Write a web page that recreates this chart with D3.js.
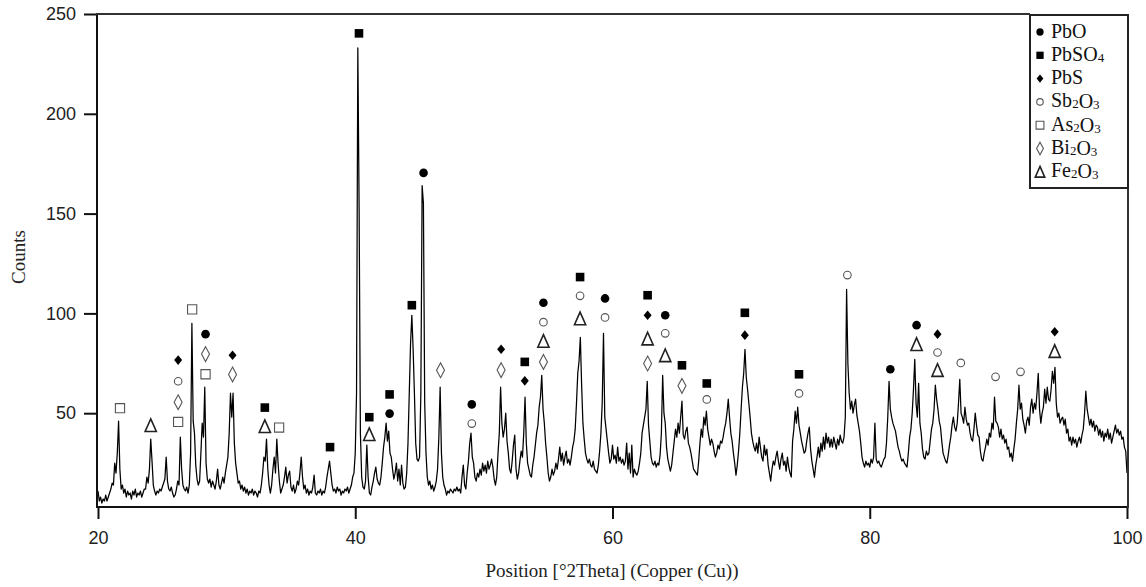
<!DOCTYPE html>
<html>
<head>
<meta charset="utf-8">
<script src="https://cdn.jsdelivr.net/npm/d3@7"></script>
<style>
  body { margin: 0; background: #fff; }
  svg { display: block; }
  .tick text { font-family: "Liberation Sans", Arial, sans-serif; font-size: 18px; fill: #222; }
  .axis-title { font-family: "Liberation Serif", "Times New Roman", serif; font-size: 19px; fill: #222; }
  .legend text { font-family: "Liberation Serif", "Times New Roman", serif; font-size: 20px; fill: #111; }
</style>
</head>
<body>
<svg width="1146" height="587"></svg>
<script>
// scan settings (degrees 2theta)
var scanStart = 20;
var scanStep = 0.1;

// counts, one row per degree (20.0 ... 20.9, 21.0 ...)
var counts = [
  11, 6, 8, 5, 7, 6, 9, 6, 8, 10,
  12, 15, 14, 25, 20, 30, 46, 22, 12, 14,
  10, 12, 8, 11, 9, 10, 7, 11, 9, 12,
  8, 10, 9, 11, 8, 10, 12, 12, 18, 15,
  22, 37, 26, 14, 11, 9, 11, 10, 12, 11,
  13, 15, 17, 28, 16, 12, 11, 13, 10, 8,
  9, 12, 16, 14, 38, 22, 14, 12, 11, 13,
  10, 14, 30, 95, 46, 40, 24, 17, 14, 16,
  30, 45, 38, 63, 25, 17, 15, 17, 13, 16,
  14, 12, 16, 22, 14, 12, 15, 18, 15, 20,
  24, 28, 40, 60, 48, 60, 35, 25, 20, 15,   // 30
  16, 12, 14, 11, 13, 10, 12, 9, 11, 10,
  12, 9, 11, 10, 8, 11, 10, 14, 20, 28,
  26, 37, 22, 14, 10, 14, 22, 28, 20, 37,
  25, 16, 10, 12, 14, 18, 23, 15, 19, 21,
  13, 11, 14, 10, 12, 16, 14, 20, 28, 18,
  12, 14, 10, 12, 9, 11, 10, 13, 19, 10,
  9, 11, 10, 12, 9, 11, 10, 13, 18, 22,
  26, 20, 14, 11, 12, 10, 13, 11, 12, 9,
  11, 10, 12, 11, 13, 10, 12, 14, 18, 20,
  30, 60, 233, 153, 40, 18, 13, 12, 16, 34,  // 40
  18, 10, 9, 13, 16, 20, 23, 17, 15, 14,
  18, 25, 33, 38, 45, 36, 41, 30, 28, 22,
  17, 20, 25, 16, 22, 14, 24, 15, 12, 13,
  20, 35, 60, 85, 99, 82, 60, 35, 27, 26,
  28, 60, 164, 155, 55, 30, 18, 14, 16, 12,
  14, 11, 13, 16, 22, 38, 63, 30, 18, 14,
  12, 9, 11, 10, 12, 11, 10, 12, 11, 13,
  11, 12, 10, 18, 24, 14, 12, 20, 26, 35,
  40, 28, 25, 18, 16, 20, 18, 22, 19, 25,
  21, 24, 20, 26, 22, 24, 27, 23, 17, 14,   // 50
  18, 30, 40, 63, 45, 38, 42, 50, 36, 30,
  22, 20, 26, 34, 39, 22, 17, 20, 26, 31,
  28, 40, 58, 35, 25, 22, 19, 18, 24, 28,
  34, 40, 44, 53, 58, 69, 52, 45, 35, 28,
  20, 16, 18, 22, 19, 21, 25, 22, 27, 33,
  26, 30, 24, 28, 31, 25, 27, 24, 28, 33,
  36, 42, 55, 70, 76, 88, 64, 45, 37, 30,
  27, 25, 27, 24, 23, 26, 22, 21, 20, 24,
  31, 40, 55, 90, 48, 42, 36, 30, 25, 27,
  34, 27, 29, 25, 33, 26, 28, 25, 27, 24,   // 60
  26, 35, 22, 30, 20, 34, 18, 22, 20, 19,
  21, 25, 30, 40, 44, 48, 52, 66, 44, 36,
  28, 25, 24, 26, 23, 25, 24, 29, 40, 69,
  50, 45, 33, 27, 24, 21, 24, 30, 36, 42,
  38, 45, 40, 48, 56, 39, 37, 41, 43, 35,
  33, 30, 26, 22, 21, 20, 19, 26, 35, 42,
  38, 48, 44, 51, 42, 38, 34, 37, 35, 31,
  28, 30, 34, 32, 36, 35, 38, 42, 45, 50,
  57, 48, 40, 36, 30, 25, 19, 24, 31, 40,
  52, 63, 70, 82, 68, 62, 55, 48, 40, 36,   // 70
  33, 31, 35, 30, 38, 33, 28, 26, 34, 29,
  32, 24, 20, 16, 22, 26, 24, 28, 31, 26,
  22, 27, 30, 24, 26, 21, 28, 23, 20, 18,
  36, 42, 51, 45, 53, 44, 40, 36, 33, 30,
  31, 36, 40, 43, 32, 26, 22, 18, 24, 28,
  33, 28, 35, 31, 38, 32, 40, 35, 38, 33,
  37, 33, 38, 35, 32, 37, 34, 39, 36, 35,
  38, 48, 112, 75, 60, 52, 56, 50, 54, 57,
  49, 45, 41, 35, 28, 25, 23, 26, 24, 25,
  23, 27, 25, 28, 45, 27, 25, 26, 24, 23,   // 80
  25, 27, 28, 35, 48, 66, 52, 48, 45, 43,
  41, 37, 33, 31, 28, 26, 27, 25, 24, 23,
  30, 38, 42, 50, 62, 77, 55, 48, 65, 45,
  40, 32, 28, 27, 31, 29, 30, 36, 42, 45,
  52, 64, 57, 52, 46, 43, 36, 30, 28, 26,
  25, 29, 34, 38, 44, 48, 43, 41, 45, 55,
  67, 50, 48, 45, 53, 47, 44, 45, 40, 37,
  36, 42, 50, 44, 39, 38, 31, 27, 26, 30,
  33, 37, 34, 40, 38, 45, 42, 58, 46, 45,
  43, 38, 42, 37, 39, 35, 37, 32, 33, 28,   // 90
  30, 26, 32, 37, 45, 52, 64, 52, 55, 47,
  44, 40, 46, 48, 44, 53, 57, 50, 55, 52,
  60, 70, 52, 45, 50, 53, 62, 55, 63, 57,
  56, 62, 71, 65, 73, 55, 48, 50, 45, 47,
  48, 44, 47, 40, 42, 36, 38, 34, 38, 35,
  37, 33, 36, 38, 35, 39, 42, 50, 61, 52,
  48, 44, 47, 43, 46, 41, 44, 43, 39, 42,
  38, 41, 36, 40, 38, 42, 37, 40, 35, 38,
  41, 44, 40, 42, 39, 41, 37, 38, 33, 31,
  20
];

// phases shown in the legend
var phases = ["PbO", "PbSO4", "PbS", "Sb2O3", "As2O3", "Bi2O3", "Fe2O3"];

// peak labels: [2theta, counts where the symbol sits, phase index]
var peakMarks = [
  [21.71, 52.5, 4],
  [24.10, 44, 6],
  [26.23, 76.6, 2], [26.23, 66, 3], [26.23, 55.5, 5], [26.23, 45.6, 4],
  [27.32, 102, 4],
  [28.36, 89.6, 0], [28.36, 79.6, 5], [28.36, 69.5, 4],
  [30.46, 79, 2], [30.46, 69.4, 5],
  [32.97, 52.8, 1], [32.97, 43.5, 6],
  [34.08, 42.8, 4],
  [38.04, 33, 1],
  [40.29, 240.3, 1],
  [41.09, 48, 1], [41.09, 39.5, 6],
  [42.67, 59.4, 1], [42.67, 49.8, 0],
  [44.40, 104.1, 1],
  [45.31, 170.4, 0],
  [46.63, 71.5, 5],
  [49.06, 54.4, 0], [49.06, 44.8, 3],
  [51.34, 82, 2], [51.34, 71.6, 5],
  [53.18, 75.7, 1], [53.18, 66.2, 2],
  [54.63, 105.3, 0], [54.63, 95.6, 3], [54.63, 86.2, 6], [54.63, 75.7, 5],
  [57.48, 118.2, 1], [57.48, 108.8, 3], [57.48, 97.5, 6],
  [59.42, 107.5, 0], [59.42, 98, 3],
  [62.73, 109.1, 1], [62.73, 99.1, 2], [62.73, 87.4, 6], [62.73, 74.9, 5],
  [64.10, 99.1, 0], [64.10, 90, 3], [64.10, 79, 6],
  [65.40, 74, 1], [65.40, 63.7, 5],
  [67.33, 64.9, 1], [67.33, 56.9, 3],
  [70.29, 100.3, 1], [70.29, 89.1, 2],
  [74.50, 69.5, 1], [74.50, 59.9, 3],
  [78.26, 119.2, 3],
  [81.60, 72, 0],
  [83.64, 94.1, 0], [83.64, 84.6, 6],
  [85.27, 89.6, 2], [85.27, 80.4, 3], [85.27, 71.6, 6],
  [87.08, 75.2, 3],
  [89.78, 68.2, 3],
  [91.72, 70.7, 3],
  [94.38, 90.8, 2], [94.38, 81.1, 6]
];

var xTicks = [20, 40, 60, 80, 100];
var yTicks = [50, 100, 150, 200, 250];

var svg = d3.select("svg");

// scales
var x = d3.scaleLinear().domain([20, 100]).range([98, 1127]);
var y = d3.scaleLinear().domain([3, 250]).range([507, 14]);

// symbol paths, one per phase (size s = scale factor)
function symbolPath(p, s) {
  if (p == 0) return d3.symbol(d3.symbolCircle, Math.PI * 4.3 * 4.3 * s * s)();
  if (p == 1) { var a = 4.3 * s; return "M" + -a + "," + -a + "H" + a + "V" + a + "H" + -a + "Z"; }
  if (p == 2) { var w = 4 * s, h = 4.8 * s; return "M0," + -h + "L" + w + ",0L0," + h + "L" + -w + ",0Z"; }
  if (p == 3) return d3.symbol(d3.symbolCircle, Math.PI * 3.8 * 3.8 * s * s)();
  if (p == 4) { var b = 4.6 * s; return "M" + -b + "," + -b + "H" + b + "V" + b + "H" + -b + "Z"; }
  if (p == 5) { var w2 = 4 * s, h2 = 7.4 * s; return "M0," + -h2 + "L" + w2 + ",0L0," + h2 + "L" + -w2 + ",0Z"; }
  var t = 6.3 * s; return "M0," + -t + "L" + (5.6 * s) + "," + t + "L" + (-5.6 * s) + "," + t + "Z";
}
function styleSymbol(sel) {
  sel.attr("fill", function (d) { return d.p < 3 ? "#000" : "none"; })
    .attr("stroke", function (d) { return d.p < 3 ? "none" : (d.p == 6 ? "#222" : "#555"); })
    .attr("stroke-width", function (d) { return d.p == 6 ? 1.6 : 1.1; });
}

// diffraction trace
var scan = counts.map(function (c, i) { return [scanStart + i * scanStep, c]; });
var line = d3.line()
  .x(function (d) { return x(d[0]); })
  .y(function (d) { return y(d[1]); });

svg.append("path")
  .datum(scan)
  .attr("fill", "none")
  .attr("stroke", "#000")
  .attr("stroke-width", 1.25)
  .attr("stroke-linejoin", "round")
  .attr("d", line);

// phase symbols above the peaks
svg.append("g").selectAll("path")
  .data(peakMarks.map(function (m) { return { t: m[0], c: m[1], p: m[2] }; }))
  .enter()
  .append("path")
  .attr("transform", function (d) { return "translate(" + x(d.t) + "," + y(d.c) + ")"; })
  .attr("d", function (d) { return symbolPath(d.p, 1); })
  .call(styleSymbol);

// axes
var yAxis = svg.append("g")
  .attr("transform", "translate(97,0)")
  .call(d3.axisLeft(y).tickValues(yTicks).tickSize(13).tickSizeOuter(0).tickPadding(8));

var xAxis = svg.append("g")
  .attr("transform", "translate(0,507)")
  .call(d3.axisBottom(x).tickValues(xTicks).tickSize(12).tickSizeOuter(0).tickPadding(12));

yAxis.selectAll("path, line").attr("stroke", "#111").attr("stroke-width", 2);
xAxis.selectAll("path, line").attr("stroke", "#111").attr("stroke-width", 2);
xAxis.select(".domain").attr("d", "M96,0H1129");
yAxis.select(".domain").attr("d", "M0,507V13");

// frame: top and right edges
svg.append("line").attr("x1", 96).attr("x2", 1030).attr("y1", 14).attr("y2", 14)
  .attr("stroke", "#333").attr("stroke-width", 2);
svg.append("line").attr("x1", 1128).attr("x2", 1128).attr("y1", 188).attr("y2", 508)
  .attr("stroke", "#333").attr("stroke-width", 2);

// axis titles
svg.append("text")
  .attr("class", "axis-title")
  .attr("transform", "translate(25,257) rotate(-90)")
  .attr("text-anchor", "middle")
  .text("Counts");

svg.append("text")
  .attr("class", "axis-title")
  .attr("x", 612)
  .attr("y", 577)
  .attr("text-anchor", "middle")
  .text("Position [°2Theta] (Copper (Cu))");

// legend
var legend = svg.append("g").attr("class", "legend");
legend.append("rect")
  .attr("x", 1030).attr("y", 15).attr("width", 98).attr("height", 173)
  .attr("fill", "#fff").attr("stroke", "#222").attr("stroke-width", 2);

var items = legend.selectAll("g.item")
  .data(phases.map(function (name, i) { return { name: name, p: i }; }))
  .enter()
  .append("g")
  .attr("class", "item")
  .attr("transform", function (d, i) { return "translate(0," + (37.5 + i * 23.3) + ")"; });

items.append("path")
  .attr("transform", "translate(1040,-5.5)")
  .attr("d", function (d) { return symbolPath(d.p, 0.85); })
  .call(styleSymbol);

// names with subscript digits
items.append("text")
  .attr("x", 1051)
  .each(function (d) {
    var t = d3.select(this);
    d.name.split(/(\d)/).forEach(function (part) {
      if (part === "") return;
      if (/\d/.test(part)) {
        t.append("tspan").attr("font-size", "13px").attr("dy", 1).text(part);
        t.append("tspan").attr("dy", -1).text("");
      } else {
        t.append("tspan").text(part);
      }
    });
  });
</script>
</body>
</html>
